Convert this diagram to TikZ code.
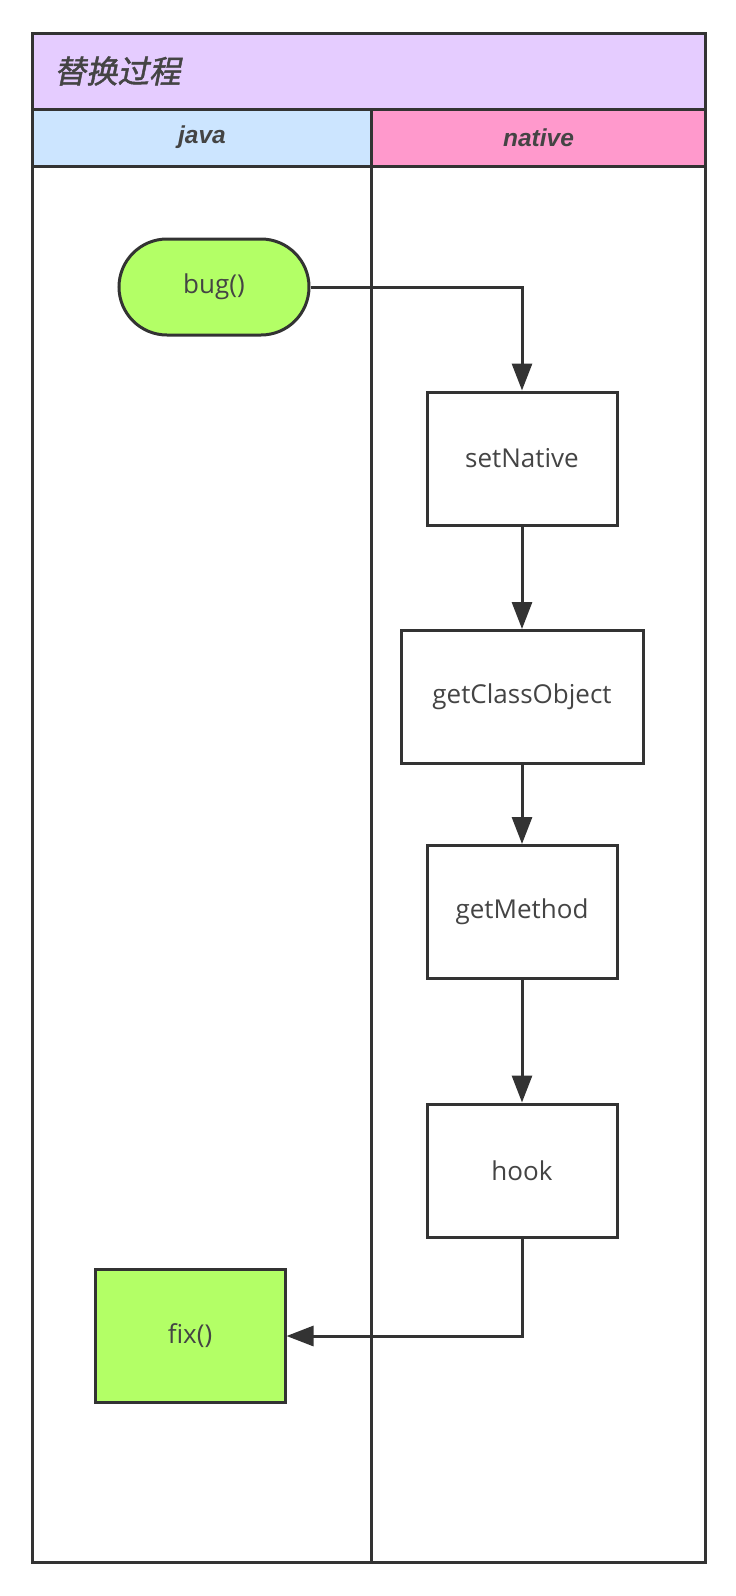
\documentclass[tikz,border=0pt]{standalone}
\usepackage{fontspec}
\setmainfont{Open Sans}
\newfontfamily\cjkfont[FakeSlant=0.2,FakeBold=1.5]{Noto Sans CJK SC}
\newfontfamily\hdrfont{Liberation Sans}
\usetikzlibrary{arrows.meta}
\definecolor{lineg}{HTML}{333333}
\definecolor{titlebg}{HTML}{E5CCFF}
\definecolor{javabg}{HTML}{CCE5FF}
\definecolor{nativebg}{HTML}{FF99CC}
\definecolor{greenbg}{HTML}{B3FF66}
\definecolor{txtg}{HTML}{444444}
\tikzset{
  frameline/.style={draw=lineg,line width=3pt},
  procbox/.style={draw=lineg,line width=3pt,fill=white,minimum width=190pt,minimum height=133pt,inner sep=0pt,
     text=txtg,font=\fontsize{26}{30}\selectfont},
  greenbox/.style={procbox,fill=greenbg},
  startbox/.style={procbox,fill=greenbg,rounded corners=48pt,minimum height=96pt},
  flow/.style={draw=lineg,line width=3pt,-{Triangle[length=27pt,width=20pt]}},
  hdrtext/.style={text=txtg,font=\hdrfont\bfseries\itshape\fontsize{24.5}{28}\selectfont}
}
\begin{document}
\begin{tikzpicture}[x=1pt,y=-1pt]
\useasboundingbox (0,0) rectangle (736,1596);
% lanes
\fill[titlebg] (32.6,33.6) rectangle (705.5,109);
\fill[javabg] (32.6,109) rectangle (371.6,166);
\fill[nativebg] (371.6,109) rectangle (705.5,166);
\draw[frameline] (32.6,33.6) rectangle (705.5,1562.6);
\draw[frameline] (32.6,109) -- (705.5,109);
\draw[frameline] (32.6,166) -- (705.5,166);
\draw[frameline] (371.6,109) -- (371.6,1562.6);
\node[anchor=west,text=txtg,font=\cjkfont\fontsize{31.5}{34}\selectfont] (title) at (51,71) {替换过程};
\node[hdrtext] (java) at (202,137.5) {java};
\node[hdrtext] (native) at (538.5,137.5) {native};
% nodes
\node[startbox] (bug) at (214,287) {bug()};
\node[procbox] (setn) at (522,458.5) {setNative};
\node[procbox,minimum width=242pt] (gco) at (522,697) {getClassObject};
\node[procbox] (gm) at (522,912) {getMethod};
\node[procbox] (hook) at (522,1170.5) {hook};
\node[greenbox] (fix) at (190,1336) {fix()};
% connectors
\draw[flow] (bug.east) -| (setn.north);
\draw[flow] (setn.south) -- (gco.north);
\draw[flow] (gco.south) -- (gm.north);
\draw[flow] (gm.south) -- (hook.north);
\draw[flow] (hook.south) |- (fix.east);
\end{tikzpicture}
\end{document}
